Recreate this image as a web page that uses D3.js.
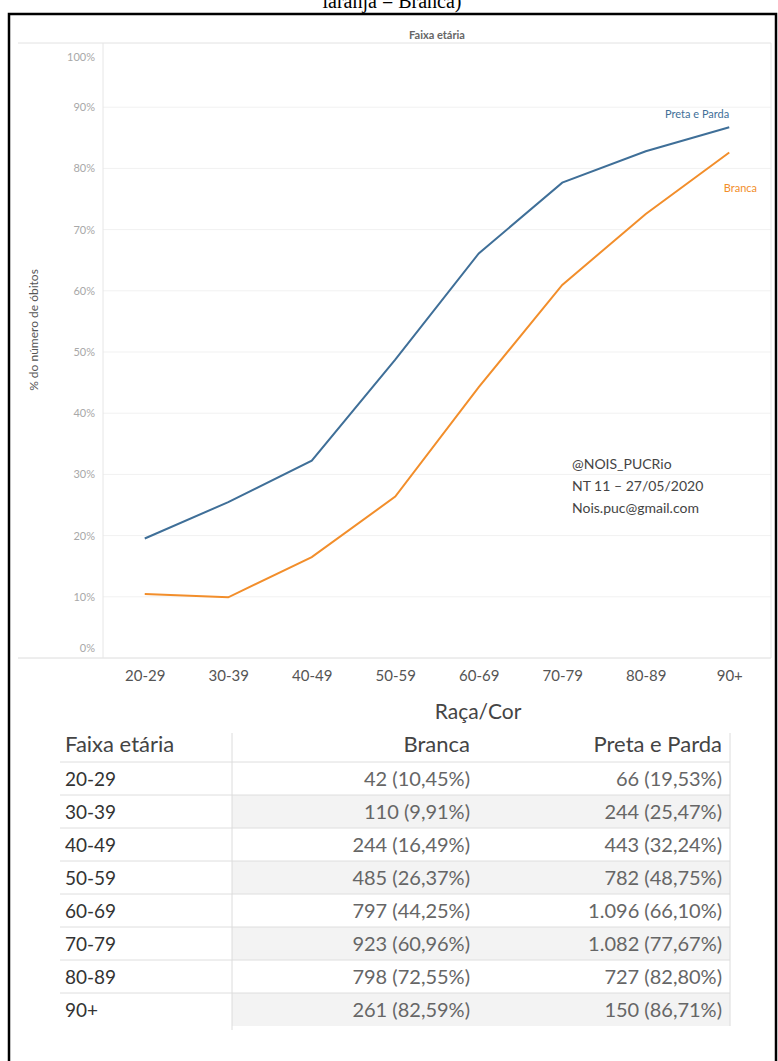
<!DOCTYPE html>
<html>
<head>
<meta charset="utf-8">
<script src="https://cdn.jsdelivr.net/npm/d3@7"></script>
<style>
  body { margin: 0; background: #fff; }
  svg { display: block; }
</style>
</head>
<body>
<svg id="chart" width="778" height="1061"></svg>
<script>
// données
const faixas = ["20-29", "30-39", "40-49", "50-59", "60-69", "70-79", "80-89", "90+"];
const brancaPct = [10.45, 9.91, 16.49, 26.37, 44.25, 60.96, 72.55, 82.59];
const pretaPct = [19.53, 25.47, 32.24, 48.75, 66.10, 77.67, 82.80, 86.71];
const brancaN = [42, 110, 244, 485, 797, 923, 798, 261];
const pretaN = [66, 244, 443, 782, 1096, 1082, 727, 150];
const yTicks = [0, 10, 20, 30, 40, 50, 60, 70, 80, 90, 100];

const svg = d3.select("#chart");
const font = "Lato, 'Open Sans', sans-serif";
const blue = "#3f6f98", orange = "#f28e2b";

// locale pt-BR pour les nombres du tableau
const br = d3.formatLocale({ decimal: ",", thousands: ".", grouping: [3], currency: ["R$", ""] });
const fmtN = br.format(",d");
const fmtP = br.format(".2f");

// titre coupé en haut (comme sur l'original)
svg.append("text")
    .attr("x", 392).attr("y", 8)
    .attr("text-anchor", "middle")
    .attr("font-family", "'Liberation Serif', serif")
    .attr("font-size", 20)
    .text("laranja = Branca)");

// cadre noir
svg.append("rect")
    .attr("x", 9).attr("y", 14)
    .attr("width", 767).attr("height", 1100)
    .attr("fill", "none")
    .attr("stroke", "#000")
    .attr("stroke-width", 2.5);

// zone du graphique
const pLeft = 103, pRight = 771, pTop = 46, pBottom = 658;

const x = d3.scalePoint()
    .domain(faixas)
    .range([pLeft, pRight])
    .padding(0.5);

const y = d3.scaleLinear()
    .domain([0, 100])
    .range([pBottom, pTop]);

// en-tête
svg.append("text")
    .attr("x", (pLeft + pRight) / 2).attr("y", 39)
    .attr("text-anchor", "middle")
    .attr("font-family", font)
    .attr("font-weight", "bold")
    .attr("font-size", 11)
    .attr("fill", "#666")
    .text("Faixa etária");

// grille
svg.append("g")
    .selectAll("line")
    .data(yTicks.filter(d => d > 0 && d < 100))
    .join("line")
    .attr("x1", pLeft).attr("x2", pRight)
    .attr("y1", d => y(d)).attr("y2", d => y(d))
    .attr("stroke", "#f1f1f1");

// cadre gris clair
svg.append("line").attr("x1", 18).attr("x2", pRight).attr("y1", 43).attr("y2", 43).attr("stroke", "#e2e2e2");
svg.append("line").attr("x1", 18).attr("x2", pRight).attr("y1", pBottom).attr("y2", pBottom).attr("stroke", "#dcdcdc");
svg.append("line").attr("x1", pLeft).attr("x2", pLeft).attr("y1", 43).attr("y2", pBottom).attr("stroke", "#e6e6e6");
svg.append("line").attr("x1", pRight).attr("x2", pRight).attr("y1", 43).attr("y2", pBottom).attr("stroke", "#e6e6e6");

// axe Y
const yAxis = svg.append("g")
    .attr("transform", `translate(${pLeft},0)`)
    .call(d3.axisLeft(y).tickValues(yTicks).tickFormat(d => d + "%").tickSize(0).tickPadding(8));
yAxis.select(".domain").remove();
yAxis.selectAll("text")
    .attr("font-family", font)
    .attr("font-size", 11)
    .attr("fill", "#a8a8a8")
    .attr("dy", d => d === 100 ? "1.35em" : (d === 0 ? "-0.6em" : "0.32em"));

svg.append("text")
    .attr("transform", "translate(38,330) rotate(-90)")
    .attr("text-anchor", "middle")
    .attr("font-family", font)
    .attr("font-size", 12)
    .attr("fill", "#555")
    .text("% do número de óbitos");

// axe X
const xAxis = svg.append("g")
    .attr("transform", `translate(0,${pBottom})`)
    .call(d3.axisBottom(x).tickSize(0).tickPadding(12));
xAxis.select(".domain").remove();
xAxis.selectAll("text")
    .attr("font-family", font)
    .attr("font-size", 15)
    .attr("fill", "#555");

// courbes
const line = d3.line()
    .x((d, i) => x(faixas[i]))
    .y(d => y(d));

svg.append("path")
    .datum(brancaPct)
    .attr("d", line)
    .attr("fill", "none")
    .attr("stroke", orange)
    .attr("stroke-width", 2);

svg.append("path")
    .datum(pretaPct)
    .attr("d", line)
    .attr("fill", "none")
    .attr("stroke", blue)
    .attr("stroke-width", 2);

const last = faixas[faixas.length - 1];
svg.append("text")
    .attr("x", x(last)).attr("y", y(pretaPct[7]) - 9)
    .attr("text-anchor", "end")
    .attr("font-family", font)
    .attr("font-size", 11)
    .attr("fill", blue)
    .text("Preta e Parda");

svg.append("text")
    .attr("x", 757).attr("y", y(brancaPct[7]) + 39)
    .attr("text-anchor", "end")
    .attr("font-family", font)
    .attr("font-size", 11)
    .attr("fill", orange)
    .text("Branca");

// signature
const sig = ["@NOIS_PUCRio", "NT 11 – 27/05/2020", "Nois.puc@gmail.com"];
svg.append("g")
    .selectAll("text")
    .data(sig)
    .join("text")
    .attr("x", 572)
    .attr("y", (d, i) => 469 + i * 22)
    .attr("font-family", font)
    .attr("font-size", 14)
    .attr("fill", "#444")
    .text(d => d);

// Tableau
const rowTop = 762, rowH = 33;
const row = d3.scaleBand()
    .domain(faixas)
    .range([rowTop, rowTop + rowH * faixas.length]);

const tLeft = 60, tSep = 232, tRight = 730;
const tfont = "Lato, 'Open Sans', sans-serif";

// fond alterné
svg.append("g")
    .selectAll("rect")
    .data(faixas.filter((d, i) => i % 2 === 1))
    .join("rect")
    .attr("x", tSep).attr("y", d => row(d))
    .attr("width", tRight - tSep).attr("height", row.bandwidth())
    .attr("fill", "#f3f3f3");

// séparateurs
svg.append("g")
    .selectAll("line")
    .data(faixas)
    .join("line")
    .attr("x1", tLeft).attr("x2", tRight)
    .attr("y1", d => row(d)).attr("y2", d => row(d))
    .attr("stroke", "#dedede");

svg.append("line")
    .attr("x1", tSep).attr("x2", tSep)
    .attr("y1", 733).attr("y2", rowTop + rowH * faixas.length + 4)
    .attr("stroke", "#dcdcdc");
svg.append("line")
    .attr("x1", tRight).attr("x2", tRight)
    .attr("y1", 733).attr("y2", rowTop + rowH * faixas.length)
    .attr("stroke", "#dcdcdc");

svg.append("text")
    .attr("x", 478).attr("y", 719)
    .attr("text-anchor", "middle")
    .attr("font-family", tfont)
    .attr("font-size", 21)
    .attr("fill", "#444")
    .text("Raça/Cor");

const head = [
    { t: "Faixa etária", x: 65, a: "start" },
    { t: "Branca", x: 470, a: "end" },
    { t: "Preta e Parda", x: 722, a: "end" }
];
svg.append("g")
    .selectAll("text")
    .data(head)
    .join("text")
    .attr("x", d => d.x).attr("y", 752)
    .attr("text-anchor", d => d.a)
    .attr("font-family", tfont)
    .attr("font-size", 22)
    .attr("fill", "#444")
    .text(d => d.t);

const rows = svg.append("g")
    .selectAll("g")
    .data(faixas)
    .join("g")
    .attr("transform", d => `translate(0,${row(d) + row.bandwidth() / 2 + 7})`);

rows.append("text")
    .attr("x", 65)
    .attr("font-family", tfont)
    .attr("font-size", 19)
    .attr("fill", "#333")
    .text(d => d);

rows.append("text")
    .attr("x", 470)
    .attr("text-anchor", "end")
    .attr("font-family", tfont)
    .attr("font-size", 20)
    .attr("fill", "#666")
    .text((d, i) => `${fmtN(brancaN[i])} (${fmtP(brancaPct[i])}%)`);

rows.append("text")
    .attr("x", 722)
    .attr("text-anchor", "end")
    .attr("font-family", tfont)
    .attr("font-size", 20)
    .attr("fill", "#666")
    .text((d, i) => `${fmtN(pretaN[i])} (${fmtP(pretaPct[i])}%)`);
</script>
</body>
</html>
